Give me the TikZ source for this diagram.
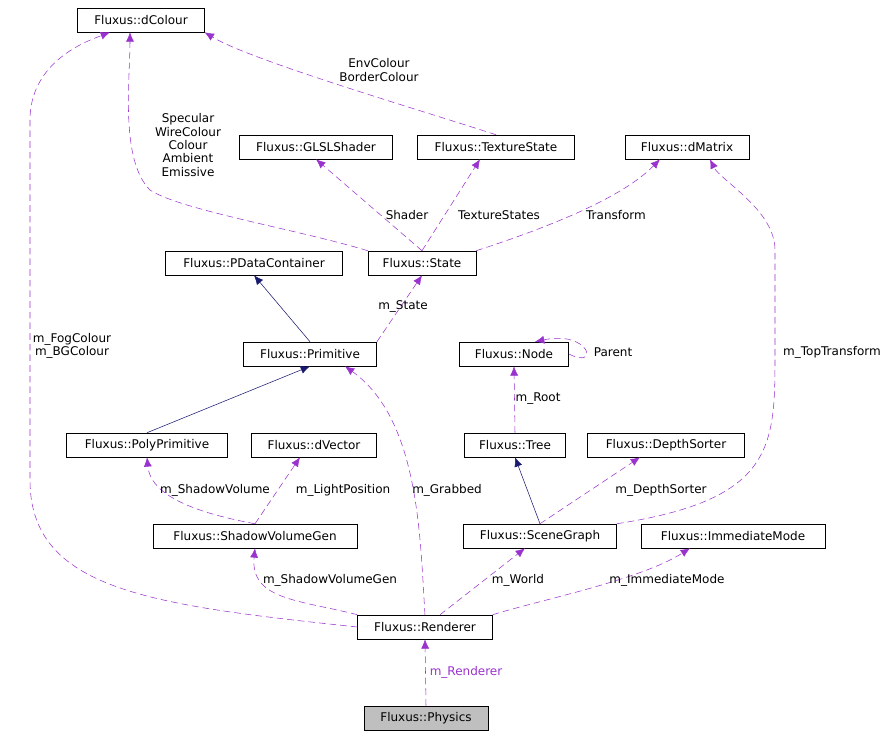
\documentclass[tikz,border=0pt]{standalone}
\usepackage{fontspec}
\setmainfont{DejaVu Sans}
\usetikzlibrary{arrows.meta}
\definecolor{usage}{RGB}{154,50,205}
\definecolor{inherit}{RGB}{25,25,112}
\definecolor{focus}{RGB}{191,191,191}

\tikzset{
  cls/.style={draw, fill=white, inner sep=0pt, minimum height=18pt, font=\fontsize{9}{10}\selectfont},
  use/.style={usage, dashed, dash pattern=on 5pt off 3pt, -{Latex[length=7pt,width=6pt]}},
  isa/.style={inherit, -{Latex[length=7pt,width=6pt]}},
  lbl/.style={font=\fontsize{9}{10}\selectfont, align=center, inner sep=1pt}
}

\begin{document}
\begin{tikzpicture}[x=0.75pt,y=-0.75pt]
    \useasboundingbox (0,0) rectangle (896,736);

    \node[cls, minimum width=95pt]  (colour)  at (141,20)  {Fluxus::dColour};
    \node[cls, minimum width=115pt] (glsl)    at (316,147) {Fluxus::GLSLShader};
    \node[cls, minimum width=118pt] (texst)   at (496,147) {Fluxus::TextureState};
    \node[cls, minimum width=93pt]  (matrix)  at (687,147) {Fluxus::dMatrix};
    \node[cls, minimum width=133pt] (pdata)   at (254,263) {Fluxus::PDataContainer};
    \node[cls, minimum width=81pt]  (state)   at (422,263) {Fluxus::State};
    \node[cls, minimum width=100pt] (prim)    at (310,354) {Fluxus::Primitive};
    \node[cls, minimum width=82pt]  (node)    at (514,354) {Fluxus::Node};
    \node[cls, minimum width=121pt] (poly)    at (147,445) {Fluxus::PolyPrimitive};
    \node[cls, minimum width=94pt]  (vector)  at (314,445) {Fluxus::dVector};
    \node[cls, minimum width=76pt]  (tree)    at (515,445) {Fluxus::Tree};
    \node[cls, minimum width=118pt] (depth)   at (666,445) {Fluxus::DepthSorter};
    \node[cls, minimum width=153pt] (shadow)  at (255,536) {Fluxus::ShadowVolumeGen};
    \node[cls, minimum width=115pt] (scene)   at (540,536) {Fluxus::SceneGraph};
    \node[cls, minimum width=138pt] (immed)   at (733,536) {Fluxus::ImmediateMode};
    \node[cls, minimum width=101pt] (render)  at (425,627) {Fluxus::Renderer};
    \node[cls, minimum width=93pt, fill=focus] (phys) at (426,718) {Fluxus::Physics};

    % inheritance
    \draw[isa] (poly.north) -- (prim.south);
    \draw[isa] (prim.north) -- (pdata.south);
    \draw[isa] (scene.north) -- (tree.south);

    % usage
    \draw[use] (phys.north) -- node[lbl, right=2pt]{m\_Renderer} (render.south);
    \draw[use] (render.west) .. controls (150,605) and (30,590) .. (30,480)
        -- (30,120) .. controls (30,60) and (90,40) .. (colour.south west -| 110,0);
    \node[lbl] (fog) at (72,346) {m\_FogColour\\m\_BGColour};
    \draw[use] (render.north west) .. controls (300,600) and (250,600) .. (shadow.south);
    \node[lbl] (lsvg) at (330,580) {m\_ShadowVolumeGen};
    \draw[use] (render.north) .. controls (420,540) and (420,420) .. (prim.south east -| 345,0);
    \node[lbl] (lgrab) at (447,490) {m\_Grabbed};
    \draw[use] (render.north -| 440,0) -- (scene.south -| 525,0);
    \node[lbl] (lworld) at (518,580) {m\_World};
    \draw[use] (render.north east) .. controls (540,600) and (640,580) .. (immed.south -| 690,0);
    \node[lbl] (limm) at (667,580) {m\_ImmediateMode};
    \draw[use] (shadow.north) .. controls (180,510) and (150,490) .. (poly.south);
    \node[lbl] (lsv) at (215,490) {m\_ShadowVolume};
    \draw[use] (shadow.north) -- (vector.south -| 300,0);
    \node[lbl] (llp) at (343,490) {m\_LightPosition};
    \draw[use] (prim.north east) -- (state.south);
    \node[lbl] (lst) at (403,306) {m\_State};
    \draw[use] (tree.north) -- (node.south);
    \node[lbl] (lroot) at (538,399) {m\_Root};
    \draw[use] (node.east) .. controls (600,370) and (590,330) .. (node.north east -| 535,0);
    \node[lbl] (lpar) at (613,352) {Parent};
    \draw[use] (scene.north) -- (depth.south -| 640,0);
    \node[lbl] (lds) at (661,490) {m\_DepthSorter};
    \draw[use] (scene.north east) .. controls (770,500) and (775,450) .. (775,360)
        -- (775,250) .. controls (775,210) and (720,180) .. (matrix.south -| 710,0);
    \node[lbl] (ltt) at (832,352) {m\_TopTransform};
    \draw[use] (state.north) -- (glsl.south);
    \node[lbl] (lsh) at (407,215) {Shader};
    \draw[use] (state.north) -- (texst.south -| 480,0);
    \node[lbl] (lts) at (499,215) {TextureStates};
    \draw[use] (state.north east) .. controls (540,230) and (620,200) .. (matrix.south -| 660,0);
    \node[lbl] (ltr) at (616,215) {Transform};
    \draw[use] (state.north west) .. controls (300,230) and (180,210) .. (150,190)
        .. controls (120,160) and (130,80) .. (colour.south -| 130,0);
    \node[lbl] (lspec) at (188,145) {Specular\\WireColour\\Colour\\Ambient\\Emissive};
    \draw[use] (texst.north) .. controls (420,110) and (250,60) .. (colour.south east);
    \node[lbl] (lenv) at (379,70) {EnvColour\\BorderColour};

\end{tikzpicture}
\end{document}
